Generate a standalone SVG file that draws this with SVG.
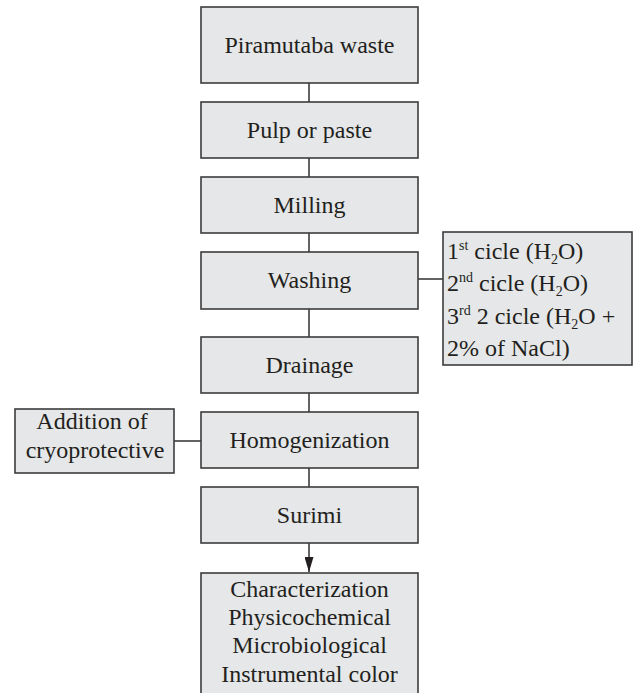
<svg xmlns="http://www.w3.org/2000/svg" width="634" height="693" viewBox="0 0 634 693">
<style>
.box{fill:#e6e7e8;stroke:#3c3c3c;stroke-width:1.6}
.t{font-family:"Liberation Serif",serif;font-size:24px;fill:#231f20;text-anchor:middle}
.tl{font-family:"Liberation Serif",serif;font-size:24px;fill:#231f20}
.c{stroke:#3c3c3c;stroke-width:1.6;fill:none}
</style>
<defs>
<marker id="ah" viewBox="0 0 15 9" refX="15" refY="4.5" markerWidth="15" markerHeight="9" markerUnits="userSpaceOnUse" orient="auto">
<path d="M0,0 L15,4.5 L0,9 Z" fill="#231f20"/>
</marker>
</defs>
<rect width="634" height="693" fill="#ffffff"/>
<g id="connectors">
<line class="c" x1="309" y1="83" x2="309" y2="102"/>
<line class="c" x1="309" y1="158" x2="309" y2="177"/>
<line class="c" x1="309" y1="233" x2="309" y2="252"/>
<line class="c" x1="309" y1="309" x2="309" y2="337"/>
<line class="c" x1="309" y1="393" x2="309" y2="412"/>
<line class="c" x1="309" y1="468" x2="309" y2="487"/>
<line class="c" x1="309" y1="543" x2="309" y2="572" marker-end="url(#ah)"/>
<line class="c" x1="418" y1="279" x2="443" y2="279"/>
<line class="c" x1="174" y1="441" x2="201" y2="441"/>
</g>
<g id="n1"><rect class="box" x="201" y="7" width="217" height="76"/><text class="t" x="309.5" y="53">Piramutaba waste</text></g>
<g id="n2"><rect class="box" x="201" y="102" width="217" height="56"/><text class="t" x="309.5" y="138">Pulp or paste</text></g>
<g id="n3"><rect class="box" x="201" y="177" width="217" height="56"/><text class="t" x="309.5" y="213">Milling</text></g>
<g id="n4"><rect class="box" x="201" y="252" width="217" height="57"/><text class="t" x="309.5" y="288">Washing</text></g>
<g id="n5"><rect class="box" x="201" y="337" width="217" height="56"/><text class="t" x="309.5" y="373">Drainage</text></g>
<g id="n6"><rect class="box" x="201" y="412" width="217" height="56"/><text class="t" x="309.5" y="448">Homogenization</text></g>
<g id="n7"><rect class="box" x="201" y="487" width="217" height="56"/><text class="t" x="309.5" y="523">Surimi</text></g>
<g id="n8"><rect class="box" x="201" y="573" width="217" height="130"/>
<text class="t" x="309.5" y="597">Characterization</text>
<text class="t" x="309.5" y="625">Physicochemical</text>
<text class="t" x="309.5" y="653">Microbiological</text>
<text class="t" x="309.5" y="682">Instrumental color</text>
</g>
<g id="washing-cycles"><rect class="box" x="443" y="232" width="189" height="133"/>
<text class="tl" x="447" y="259">1<tspan font-size="14" dy="-9">st</tspan><tspan dy="9"> cicle (H</tspan><tspan font-size="14" dy="5">2</tspan><tspan dy="-5">O)</tspan></text>
<text class="tl" x="447" y="291">2<tspan font-size="14" dy="-9">nd</tspan><tspan dy="9"> cicle (H</tspan><tspan font-size="14" dy="5">2</tspan><tspan dy="-5">O)</tspan></text>
<text class="tl" x="447" y="324">3<tspan font-size="14" dy="-9">rd</tspan><tspan dy="9"> 2 cicle (H</tspan><tspan font-size="14" dy="5">2</tspan><tspan dy="-5">O +</tspan></text>
<text class="tl" x="447" y="356">2% of NaCl)</text>
</g>
<g id="cryoprotective"><rect class="box" x="15" y="409" width="159" height="64"/>
<text class="t" x="92" y="429">Addition of</text>
<text class="t" x="95" y="458">cryoprotective</text>
</g>
</svg>
